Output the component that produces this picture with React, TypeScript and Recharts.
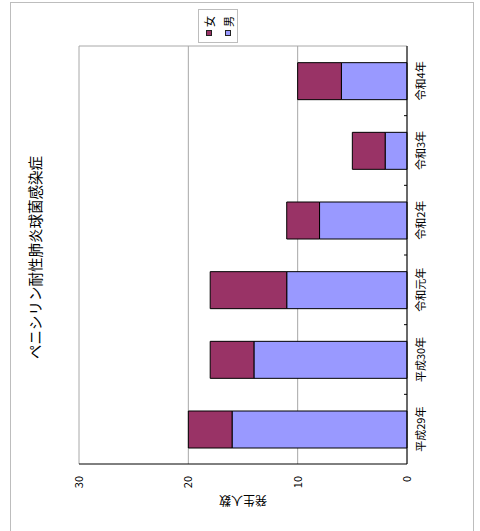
import { BarChart, Bar, XAxis, YAxis, CartesianGrid, Legend } from 'recharts'

const years = ['平成29年', '平成30年', '令和元年', '令和2年', '令和3年', '令和4年']
const male = [16, 14, 11, 8, 2, 6]
const female = [4, 4, 7, 3, 3, 4]
const valueTicks = [0, 10, 20, 30]

const data = years.map((year, i) => ({ year, 男: male[i], 女: female[i] }))

const font = '"Noto Sans CJK JP", "Noto Sans", sans-serif'

function CategoryTick(props: any) {
  const { x, y, payload, index } = props
  const half = payload?.offset ?? 0
  return (
    <g>
      {index > 0 && half > 0 && (
        <line x1={x - half} x2={x - half} y1={y - 10} y2={y - 13} stroke="#000" />
      )}
      <text x={x} y={y} dy="0.71em" textAnchor="middle" fontSize={11} fill="#000" fontFamily={font}>
        {payload.value}
      </text>
    </g>
  )
}

// 女 first, 男 second, as in the source legend
function LegendBox(props: any) {
  const items = [...(props.payload || [])].sort((a: any) => (a.value === '女' ? -1 : 1))
  return (
    <div
      style={{
        boxSizing: 'border-box',
        width: 34,
        height: 40,
        border: '1px solid #bdbdbd',
        background: '#fff',
        paddingLeft: 6,
        fontFamily: font,
        fontSize: 11,
        color: '#000',
      }}
    >
      {items.map((item: any) => (
        <div key={item.value} style={{ height: 19, display: 'flex', alignItems: 'center' }}>
          <span
            style={{
              boxSizing: 'border-box',
              width: 6,
              height: 6,
              border: '1px solid #222',
              background: item.color,
              marginRight: 3,
            }}
          />
          <span style={{ lineHeight: '12px' }}>{item.value}</span>
        </div>
      ))}
    </div>
  )
}

export default function App() {
  return (
    <div style={{ position: 'fixed', inset: 0, overflow: 'hidden', background: '#fff' }}>
      <div
        style={{
          position: 'absolute',
          left: 0,
          top: 0,
          width: 545,
          height: 464,
          transformOrigin: '0 0',
          transform: 'translate(10px, 547px) rotate(-90deg)',
          boxShadow: 'inset 0 0 0 1px #bdbdbd',
          fontFamily: font,
        }}
      >
        <div
          style={{
            position: 'absolute',
            left: 139.5,
            top: 17,
            width: 300,
            textAlign: 'center',
            fontSize: 14.5,
            lineHeight: '16px',
            color: '#000',
          }}
        >
          ペニシリン耐性肺炎球菌感染症
        </div>
        <BarChart
          width={545}
          height={464}
          data={data}
          margin={{ top: 69, right: 44, left: 10, bottom: 37 }}
          barSize={37}
        >
          <CartesianGrid
            stroke="#a8a8a8"
            verticalCoordinatesGenerator={({ offset }: any) => [offset.left + offset.width]}
          />
          <XAxis
            dataKey="year"
            height={30}
            tickSize={0}
            tickMargin={10}
            axisLine={{ stroke: '#000' }}
            tickLine={false}
            tick={<CategoryTick />}
          />
          <YAxis
            width={73}
            domain={[0, 30]}
            ticks={valueTicks}
            tickSize={0}
            tickMargin={12}
            tickLine={false}
            axisLine={{ stroke: '#000' }}
            tick={{ fill: '#000', fontSize: 11, fontFamily: font }}
            label={{ value: '発生人数', angle: -90, position: 'center', fill: '#000', fontSize: 12, fontFamily: font }}
          />
          <Legend
            layout="vertical"
            align="center"
            verticalAlign="middle"
            wrapperStyle={{ left: 504, top: 188, width: 34, height: 40 }}
            content={LegendBox}
          />
          <Bar dataKey="男" stackId="a" fill="#9999FF" stroke="#000" strokeWidth={1} isAnimationActive={false} />
          <Bar dataKey="女" stackId="a" fill="#993366" stroke="#000" strokeWidth={1} isAnimationActive={false} />
        </BarChart>
      </div>
    </div>
  )
}
